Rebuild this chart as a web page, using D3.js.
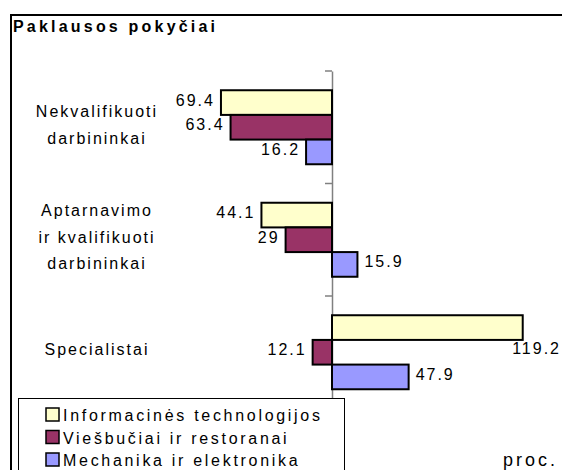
<!DOCTYPE html>
<html>
<head>
<meta charset="utf-8">
<script src="https://cdn.jsdelivr.net/npm/d3@7"></script>
<style>
html,body{margin:0;padding:0;background:#fff;overflow:hidden;}
svg{display:block;font-family:"Liberation Sans",Arial,sans-serif;}
</style>
</head>
<body>
<svg id="chart" width="562" height="470"></svg>
<script>
const title = "Paklausos pokyčiai";
const categories = ["Nekvalifikuoti darbininkai", "Aptarnavimo ir kvalifikuoti darbininkai", "Specialistai"];
const categoryLines = [["Nekvalifikuoti", "darbininkai"], ["Aptarnavimo", "ir kvalifikuoti", "darbininkai"], ["Specialistai"]];
const seriesNames = ["Informacinės technologijos", "Viešbučiai ir restoranai", "Mechanika ir elektronika"];
const itValues = [-69.4, -44.1, 119.2];
const hotelValues = [-63.4, -29, -12.1];
const mechValues = [-16.2, 15.9, 47.9];
const seriesColors = ["#FFFFCC", "#993366", "#9999FF"];
const unitLabel = "proc.";

const W = 562, H = 470;
const svg = d3.select("#chart");
const allValues = [itValues, hotelValues, mechValues];

// frame
svg.append("rect").attr("x", 11).attr("y", 15).attr("width", 600).attr("height", 600)
  .attr("fill", "#fff").attr("stroke", "#000").attr("stroke-width", 2);

svg.append("text").attr("x", 13).attr("y", 32)
  .attr("font-size", 16).attr("font-weight", "bold").attr("letter-spacing", 3.2)
  .text(title);

const x = d3.scaleLinear().domain([-200, 150]).range([12, 572]);
const y = d3.scaleBand().domain(categories).range([71, 408.5]).paddingInner(0).paddingOuter(0);
const ys = d3.scaleBand().domain(seriesNames).range([0, y.bandwidth()]).paddingInner(0).paddingOuter(0.78);

const rows = [];
categories.forEach((c, i) => {
  seriesNames.forEach((s, j) => rows.push({cat: c, ser: s, j, v: allValues[j][i]}));
});

// axis
const axisG = svg.append("g").attr("transform", `translate(${x(0)},0)`)
  .call(d3.axisLeft(y).tickSize(0).tickFormat(""));
axisG.select(".domain").attr("stroke", "#808080").attr("stroke-width", 1.5);
const boundaries = categories.map(c => y(c)).concat([y.range()[1]]);
axisG.selectAll(".btick").data(boundaries).join("line").attr("class", "btick")
  .attr("x1", -7).attr("x2", 0).attr("y1", d => d).attr("y2", d => d)
  .attr("stroke", "#808080").attr("stroke-width", 1.5);

// bars
svg.append("g").selectAll("rect").data(rows).join("rect")
  .attr("x", d => x(Math.min(0, d.v)))
  .attr("y", d => y(d.cat) + ys(d.ser))
  .attr("width", d => Math.abs(x(d.v) - x(0)))
  .attr("height", ys.bandwidth())
  .attr("fill", d => seriesColors[d.j])
  .attr("stroke", "#000").attr("stroke-width", 2);

// data labels
const lbl = svg.append("g").attr("font-size", 16).attr("letter-spacing", 2).attr("fill", "#000");
lbl.selectAll("text").data(rows).join("text")
  .attr("text-anchor", d => d.v < 0 ? "end" : "start")
  .attr("x", d => d.v < 0 ? x(d.v) - 6 : x(d.v) + 7)
  .attr("y", d => y(d.cat) + ys(d.ser) + ys.bandwidth() / 2 + 3)
  .text(d => String(Math.abs(d.v)))
  .each(function(d) {
    if (d.v > 0) {
      const w = this.getComputedTextLength();
      const x0 = x(d.v) + 7;
      if (x0 + w > W) {
        d3.select(this).attr("x", W - w - 1)
          .attr("y", y(d.cat) + ys(d.ser) + ys.bandwidth() + 14);
      }
    }
  });

// category labels
const catG = svg.append("g").attr("font-size", 16).attr("letter-spacing", 2).attr("text-anchor", "middle");
categoryLines.forEach((lines, i) => {
  const cy = y(categories[i]) + y.bandwidth() / 2;
  const n = lines.length;
  lines.forEach((ln, k) => {
    catG.append("text").attr("x", 97)
      .attr("y", cy + 3 + (k - (n - 1) / 2) * 26.5)
      .text(ln);
  });
});

// legend
const leg = svg.append("g");
leg.append("rect").attr("x", 18.5).attr("y", 398.5).attr("width", 326).attr("height", 100)
  .attr("fill", "#fff").attr("stroke", "#000").attr("stroke-width", 1);
seriesNames.forEach((s, j) => {
  const yy = 408 + j * 22.5;
  leg.append("rect").attr("x", 46).attr("y", yy).attr("width", 13).attr("height", 13)
    .attr("fill", seriesColors[j]).attr("stroke", "#000").attr("stroke-width", 1.5);
  leg.append("text").attr("x", 63).attr("y", yy + 13).attr("font-size", 16)
    .attr("letter-spacing", 2.7).text(s);
});

svg.append("text").attr("x", 503).attr("y", 466).attr("font-size", 18)
  .attr("letter-spacing", 3).text(unitLabel);
</script>
</body>
</html>
